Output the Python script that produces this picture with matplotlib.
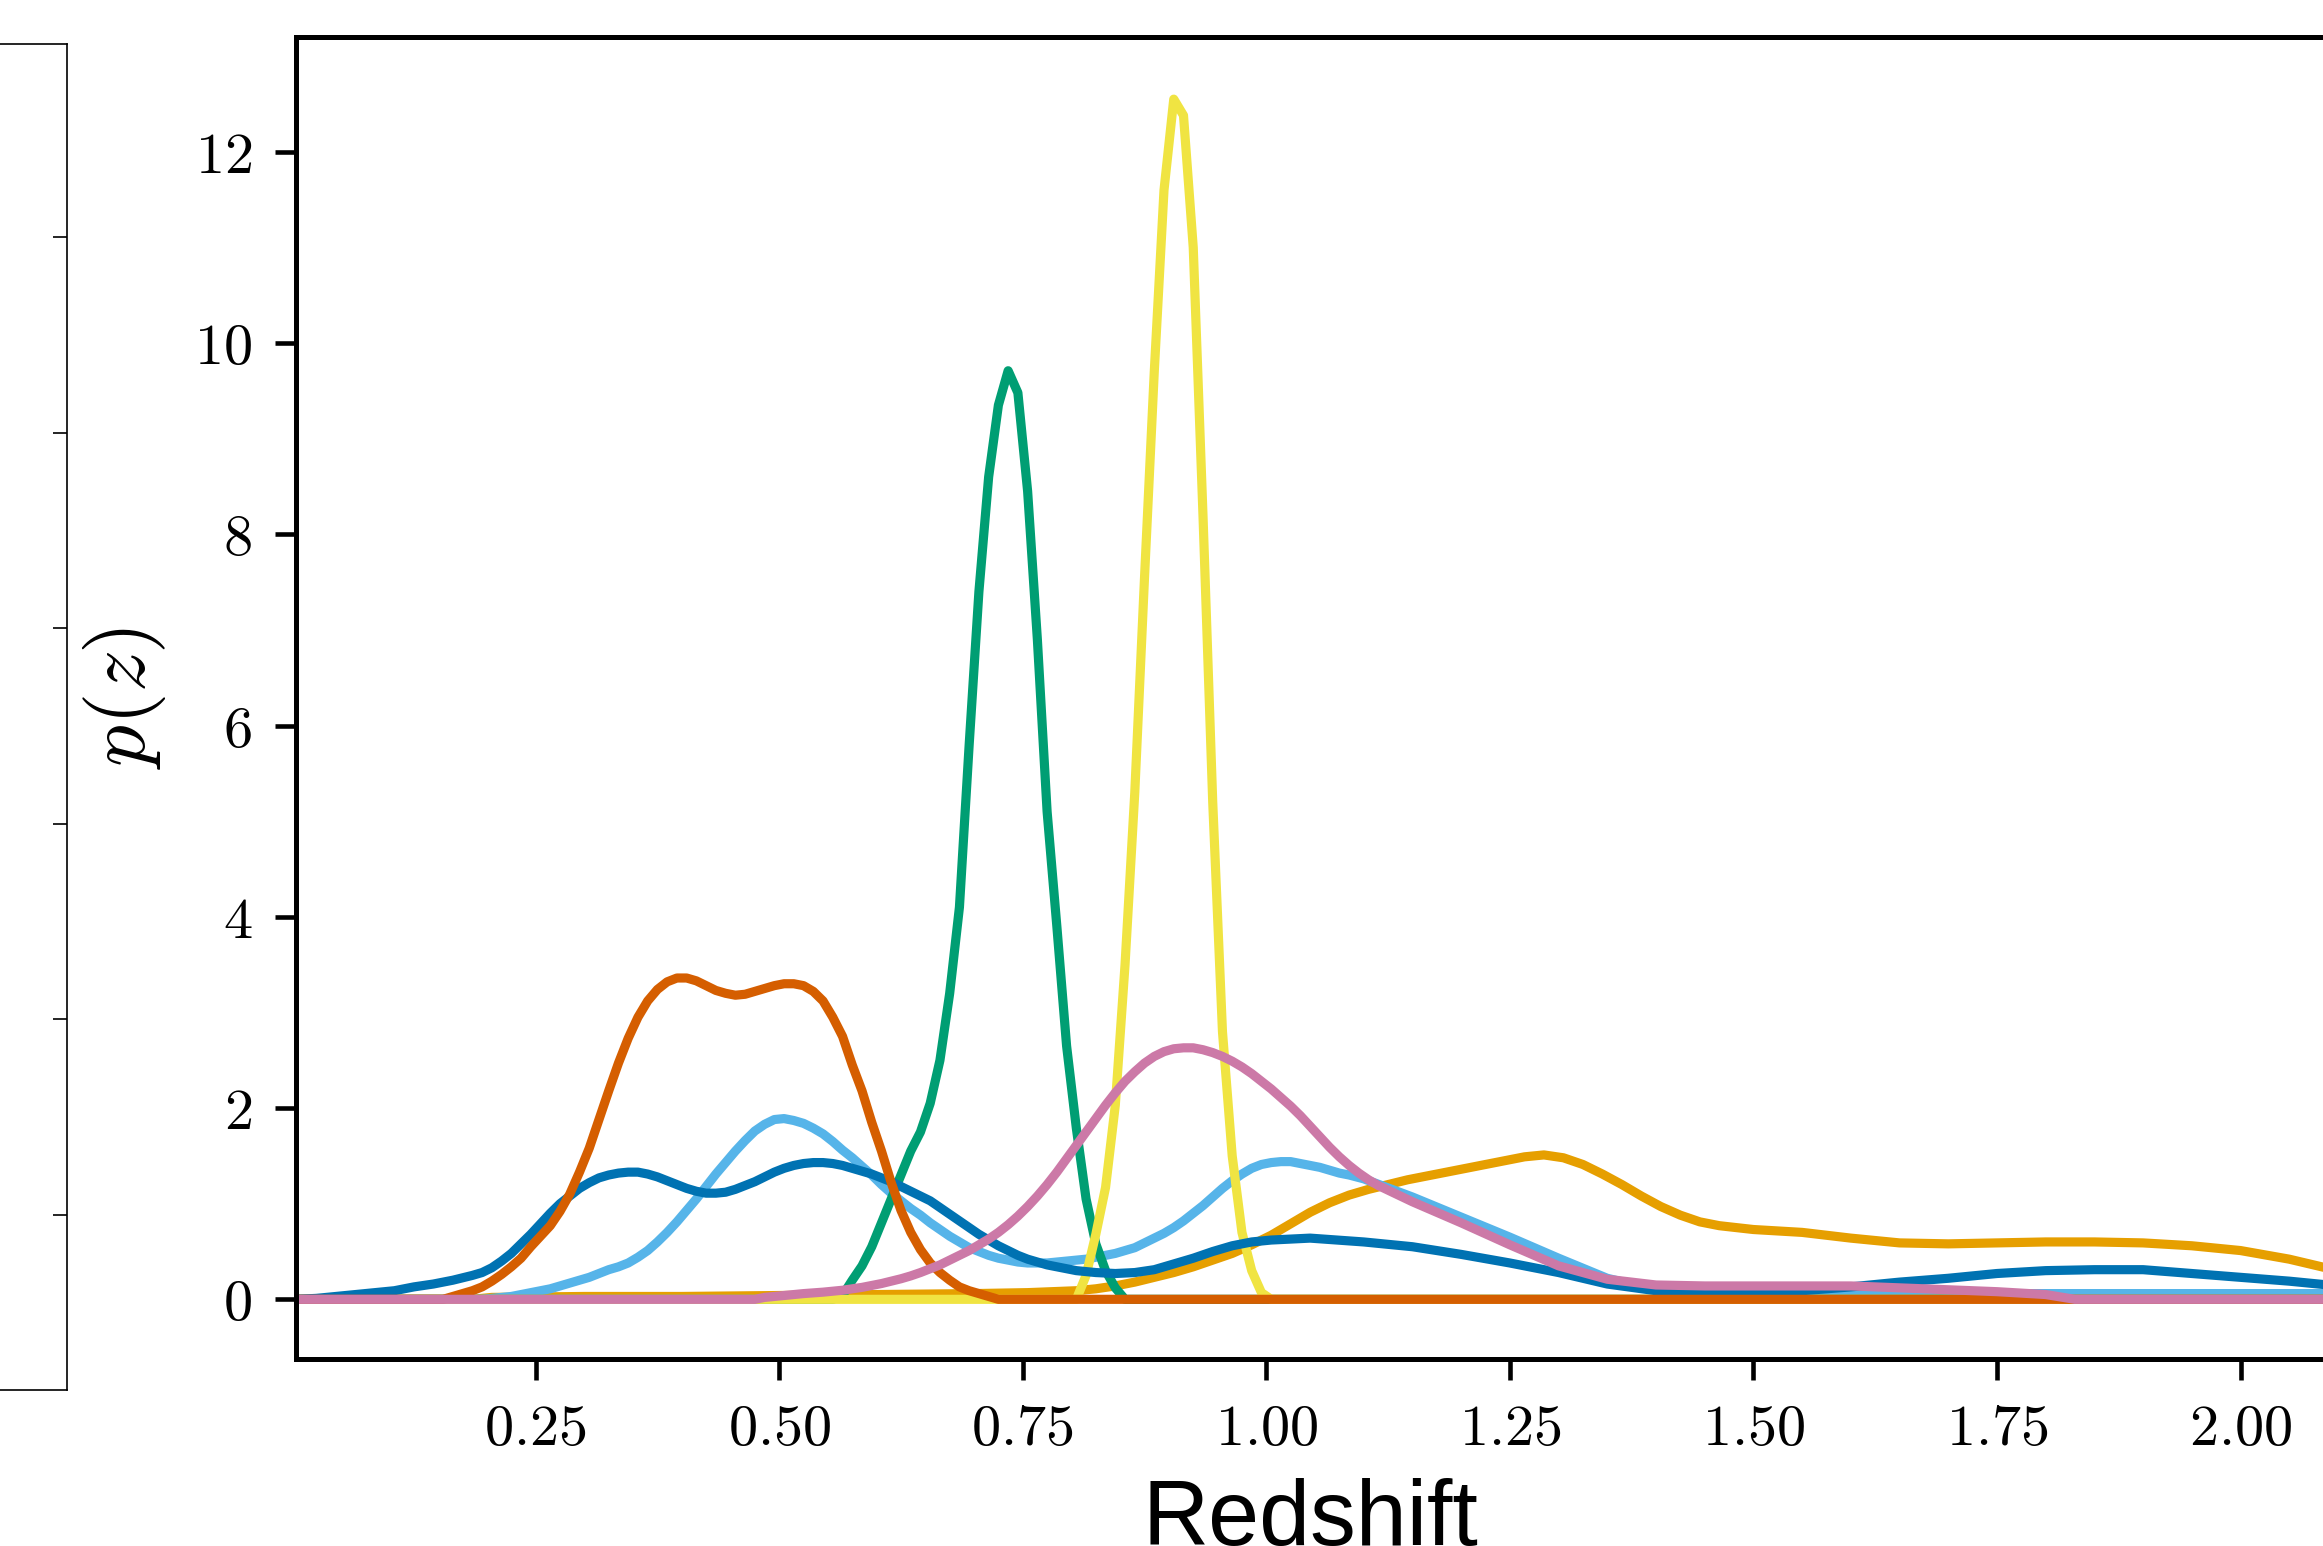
import matplotlib
matplotlib.use("Agg")
import matplotlib.pyplot as plt

plt.rcParams['mathtext.fontset'] = 'cm'
plt.rcParams['font.family'] = ['Liberation Sans', 'DejaVu Sans']

# ---------------- data ----------------
xticks = [0.25, 0.50, 0.75, 1.00, 1.25, 1.50, 1.75, 2.00]
yticks = [0, 2, 4, 6, 8, 10, 12]
xlabel = "Redshift"
ylabel = r"$p(z)$"

colors = {
    "orange": "#E69F00", "skyblue": "#56B4E9", "green": "#009E73",
    "yellow": "#F0E442", "blue": "#0072B2", "vermillion": "#D55E00",
    "pink": "#CC79A7",
}

orange_z = [0.005, 0.185, 0.205, 0.3, 0.4, 0.5, 0.6, 0.7, 0.755, 0.805, 0.825, 0.845, 0.865,
            0.885, 0.905, 0.925, 0.945, 0.965, 0.985, 1.005, 1.025, 1.045, 1.065, 1.085,
            1.105, 1.125, 1.145, 1.165, 1.185, 1.205, 1.225, 1.245, 1.265, 1.285, 1.305,
            1.325, 1.345, 1.365, 1.385, 1.405, 1.425, 1.445, 1.465, 1.5, 1.55, 1.6, 1.65,
            1.7, 1.75, 1.8, 1.85, 1.9, 1.95, 2.0, 2.05, 2.1, 2.2]
orange_p = [0, 0, 0.02, 0.03, 0.03, 0.04, 0.05, 0.06, 0.07, 0.09, 0.11, 0.14, 0.18,
            0.23, 0.28, 0.34, 0.41, 0.48, 0.57, 0.67, 0.79, 0.91, 1.01, 1.09,
            1.15, 1.20, 1.25, 1.29, 1.33, 1.37, 1.41, 1.45, 1.49, 1.51, 1.48,
            1.41, 1.31, 1.20, 1.08, 0.97, 0.88, 0.81, 0.77, 0.73, 0.70, 0.64, 0.59,
            0.58, 0.59, 0.60, 0.60, 0.59, 0.56, 0.51, 0.42, 0.30, 0.10]

skyblue_z = [0.005, 0.195, 0.205, 0.215, 0.225, 0.235, 0.245, 0.255, 0.265, 0.275, 0.285,
             0.295, 0.305, 0.315, 0.325, 0.335, 0.345, 0.355, 0.365, 0.375, 0.385, 0.395,
             0.405, 0.415, 0.425, 0.435, 0.445, 0.455, 0.465, 0.475, 0.485, 0.495, 0.505,
             0.515, 0.525, 0.535, 0.545, 0.555, 0.565, 0.575, 0.585, 0.595, 0.605, 0.615,
             0.625, 0.635, 0.645, 0.655, 0.665, 0.675, 0.685, 0.695, 0.705, 0.715, 0.725,
             0.735, 0.745, 0.755, 0.765, 0.775, 0.785, 0.795, 0.805, 0.815, 0.825, 0.835,
             0.845, 0.855, 0.865, 0.875, 0.885, 0.895, 0.905, 0.915, 0.925, 0.935, 0.945,
             0.955, 0.965, 0.975, 0.985, 0.995, 1.005, 1.015, 1.025, 1.035, 1.045, 1.055,
             1.065, 1.075, 1.085, 1.1, 1.15, 1.2, 1.25, 1.3, 1.35, 1.4, 1.45, 1.5, 1.6,
             1.7, 1.8, 1.9, 2.0, 2.1, 2.2]
skyblue_p = [0, 0, 0.01, 0.02, 0.03, 0.05, 0.07, 0.09, 0.11, 0.14, 0.17,
             0.20, 0.23, 0.27, 0.31, 0.34, 0.38, 0.44, 0.51, 0.60, 0.70, 0.81,
             0.93, 1.05, 1.18, 1.31, 1.43, 1.55, 1.66, 1.76, 1.83, 1.88, 1.89,
             1.87, 1.84, 1.79, 1.73, 1.65, 1.56, 1.48, 1.39, 1.30, 1.20, 1.11,
             1.03, 0.95, 0.88, 0.80, 0.73, 0.66, 0.60, 0.54, 0.50, 0.46, 0.43,
             0.41, 0.39, 0.38, 0.38, 0.38, 0.39, 0.40, 0.41, 0.42, 0.44, 0.46,
             0.48, 0.51, 0.54, 0.59, 0.64, 0.69, 0.75, 0.82, 0.90, 0.98, 1.07,
             1.16, 1.24, 1.31, 1.37, 1.41, 1.43, 1.44, 1.44, 1.42, 1.40, 1.38,
             1.35, 1.32, 1.30, 1.26, 1.07, 0.86, 0.65, 0.43, 0.22, 0.10, 0.07, 0.06, 0.06,
             0.06, 0.06, 0.06, 0.06, 0.06, 0.06]

green_z = [0.005, 0.555, 0.565, 0.575, 0.585, 0.595, 0.605, 0.615, 0.625, 0.635, 0.645,
           0.655, 0.665, 0.675, 0.685, 0.695, 0.705, 0.715, 0.725, 0.735, 0.745, 0.755,
           0.765, 0.775, 0.785, 0.795, 0.805, 0.815, 0.825, 0.835, 0.845, 0.855, 2.2]
green_p = [0, 0, 0.04, 0.20, 0.35, 0.55, 0.80, 1.05, 1.30, 1.55, 1.75,
           2.05, 2.50, 3.20, 4.10, 5.80, 7.40, 8.60, 9.35, 9.71, 9.48, 8.45,
           6.90, 5.10, 3.90, 2.65, 1.79, 1.05, 0.58, 0.30, 0.12, 0, 0]

yellow_z = [0.005, 0.805, 0.815, 0.825, 0.835, 0.845, 0.855, 0.865, 0.875, 0.885, 0.895,
            0.905, 0.915, 0.925, 0.935, 0.945, 0.955, 0.965, 0.975, 0.985, 0.995, 1.005, 2.2]
yellow_p = [0, 0, 0.25, 0.68, 1.17, 2.03, 3.50, 5.30, 7.55, 9.70, 11.60,
            12.55, 12.38, 11.00, 8.20, 5.20, 2.80, 1.50, 0.70, 0.30, 0.07, 0, 0]

blue_z = [0.005, 0.025, 0.045, 0.065, 0.085, 0.105, 0.125, 0.145, 0.165, 0.185, 0.195,
          0.205, 0.215, 0.225, 0.235, 0.245, 0.255, 0.265, 0.275, 0.285, 0.295, 0.305,
          0.315, 0.325, 0.335, 0.345, 0.355, 0.365, 0.375, 0.385, 0.395, 0.405, 0.415,
          0.425, 0.435, 0.445, 0.455, 0.465, 0.475, 0.485, 0.495, 0.505, 0.515, 0.525,
          0.535, 0.545, 0.555, 0.565, 0.575, 0.585, 0.595, 0.605, 0.615, 0.625, 0.635,
          0.645, 0.655, 0.665, 0.675, 0.685, 0.695, 0.705, 0.715, 0.725, 0.735, 0.745,
          0.755, 0.765, 0.775, 0.785, 0.795, 0.805, 0.825, 0.845, 0.865, 0.885, 0.905,
          0.925, 0.945, 0.965, 0.985, 1.005, 1.045, 1.1, 1.15, 1.2, 1.25, 1.3, 1.35,
          1.4, 1.45, 1.5, 1.55, 1.6, 1.65, 1.7, 1.75, 1.8, 1.85, 1.9, 1.95, 2.0, 2.05,
          2.1, 2.2]
blue_p = [0, 0.01, 0.03, 0.05, 0.07, 0.09, 0.13, 0.16, 0.20, 0.25, 0.28,
          0.33, 0.40, 0.48, 0.58, 0.68, 0.79, 0.90, 1.00, 1.08, 1.16, 1.22,
          1.27, 1.30, 1.32, 1.33, 1.33, 1.31, 1.28, 1.24, 1.20, 1.16, 1.13,
          1.11, 1.11, 1.12, 1.15, 1.19, 1.23, 1.28, 1.33, 1.37, 1.40, 1.42,
          1.43, 1.43, 1.42, 1.40, 1.37, 1.34, 1.31, 1.27, 1.23, 1.18, 1.13,
          1.08, 1.03, 0.96, 0.89, 0.82, 0.75, 0.68, 0.62, 0.56, 0.51, 0.46,
          0.42, 0.39, 0.36, 0.34, 0.32, 0.30, 0.28, 0.27, 0.28, 0.31, 0.37,
          0.43, 0.50, 0.56, 0.60, 0.62, 0.64, 0.60, 0.55, 0.47, 0.38, 0.28, 0.16,
          0.09, 0.07, 0.07, 0.09, 0.13, 0.18, 0.22, 0.27, 0.30, 0.31, 0.31, 0.27, 0.23, 0.19,
          0.14, 0.08]

vermillion_z = [0.005, 0.155, 0.165, 0.175, 0.185, 0.195, 0.205, 0.215, 0.225, 0.235, 0.245,
                0.255, 0.265, 0.275, 0.285, 0.295, 0.305, 0.315, 0.325, 0.335, 0.345, 0.355,
                0.365, 0.375, 0.385, 0.395, 0.405, 0.415, 0.425, 0.435, 0.445, 0.455, 0.465,
                0.475, 0.485, 0.495, 0.505, 0.515, 0.525, 0.535, 0.545, 0.555, 0.565, 0.575,
                0.585, 0.595, 0.605, 0.615, 0.625, 0.635, 0.645, 0.655, 0.665, 0.675, 0.685,
                0.695, 0.705, 0.715, 0.725, 2.2]
vermillion_p = [0, 0, 0.03, 0.06, 0.09, 0.13, 0.19, 0.26, 0.34, 0.43, 0.55,
                0.66, 0.77, 0.92, 1.10, 1.33, 1.58, 1.88, 2.18, 2.47, 2.73, 2.95,
                3.12, 3.24, 3.32, 3.36, 3.36, 3.33, 3.28, 3.23, 3.20, 3.18, 3.19,
                3.22, 3.25, 3.28, 3.30, 3.30, 3.28, 3.22, 3.12, 2.95, 2.75, 2.45,
                2.18, 1.85, 1.55, 1.22, 0.93, 0.70, 0.52, 0.38, 0.28, 0.20, 0.13,
                0.09, 0.06, 0.03, 0, 0]

pink_z = [0.005, 0.475, 0.485, 0.495, 0.505, 0.525, 0.545, 0.565, 0.575, 0.585, 0.595,
          0.605, 0.615, 0.625, 0.635, 0.645, 0.655, 0.665, 0.675, 0.685, 0.695, 0.705,
          0.715, 0.725, 0.735, 0.745, 0.755, 0.765, 0.775, 0.785, 0.795, 0.805, 0.815,
          0.825, 0.835, 0.845, 0.855, 0.865, 0.875, 0.885, 0.895, 0.905, 0.915, 0.925,
          0.935, 0.945, 0.955, 0.965, 0.975, 0.985, 0.995, 1.005, 1.015, 1.025, 1.035,
          1.045, 1.055, 1.065, 1.075, 1.085, 1.095, 1.105, 1.115, 1.15, 1.2, 1.25, 1.3,
          1.35, 1.4, 1.45, 1.5, 1.55, 1.6, 1.65, 1.7, 1.75, 1.8, 1.83, 2.2]
pink_p = [0, 0, 0.02, 0.03, 0.04, 0.06, 0.075, 0.095, 0.11, 0.125, 0.145,
          0.165, 0.19, 0.215, 0.245, 0.28, 0.32, 0.36, 0.41, 0.46, 0.51, 0.57,
          0.63, 0.70, 0.78, 0.87, 0.97, 1.08, 1.20, 1.33, 1.47, 1.61, 1.75,
          1.89, 2.03, 2.16, 2.28, 2.38, 2.47, 2.54, 2.59, 2.62, 2.63, 2.63,
          2.61, 2.58, 2.54, 2.49, 2.43, 2.36, 2.28, 2.20, 2.11, 2.02, 1.92,
          1.81, 1.70, 1.59, 1.49, 1.40, 1.32, 1.25, 1.19, 1.02, 0.80, 0.57, 0.35,
          0.21, 0.15, 0.14, 0.14, 0.14, 0.14, 0.12, 0.10, 0.08, 0.05, 0, 0]

series = [
    (orange_z, orange_p, colors["orange"]),
    (skyblue_z, skyblue_p, colors["skyblue"]),
    (green_z, green_p, colors["green"]),
    (yellow_z, yellow_p, colors["yellow"]),
    (blue_z, blue_p, colors["blue"]),
    (vermillion_z, vermillion_p, colors["vermillion"]),
    (pink_z, pink_p, colors["pink"]),
]

left_panel_ticks = [1, 2, 3, 4, 5, 6]

# ---------------- figure ----------------
W, H = 2323, 1546
DPI = 300
fig = plt.figure(figsize=(W / DPI, H / DPI), dpi=DPI)

# main axes (extends past the right edge of the figure)
ax_left_px, ax_top_px, ax_bot_px = 296, 37, 1359
xmin, xmax = 0.004, 2.2
px_per_unit = 974.2
ax_w_px = (xmax - xmin) * px_per_unit
ax = fig.add_axes([ax_left_px / W, 1 - ax_bot_px / H, ax_w_px / W, (ax_bot_px - ax_top_px) / H])

for z, p, c in series:
    ax.plot(z, p, color=c, lw=2.2)

ax.set_xlim(xmin, xmax)
ax.set_ylim(-0.624, 13.2)
ax.set_xticks(xticks)
ax.set_xticklabels([f"${t:.2f}$" for t in xticks])
ax.set_yticks(yticks)
ax.set_yticklabels([f"${t}$" for t in yticks])
ax.tick_params(axis='both', which='major', direction='out', length=5, width=1.1,
               labelsize=14, pad=5.5)
for s in ax.spines.values():
    s.set_linewidth(1.2)

ax.set_xlabel(xlabel, fontsize=22, family=['Liberation Sans', 'DejaVu Sans'])
ax.xaxis.set_label_coords((1310 - ax_left_px) / ax_w_px, (ax_bot_px - 1478) / (ax_bot_px - ax_top_px))
ax.set_ylabel(ylabel, fontsize=20)
ax.yaxis.set_label_coords((168 - ax_left_px) / ax_w_px, 0.5)

# partially visible left panel
lp_right, lp_top, lp_bot = 67, 44, 1390
ax2 = fig.add_axes([-0.2, 1 - lp_bot / H, 0.2 + lp_right / W, (lp_bot - lp_top) / H])
ax2.set_xticks([])
ax2.set_ylim(0.105, 6.987)
ax2.yaxis.tick_right()
ax2.set_yticks(left_panel_ticks)
ax2.tick_params(axis='y', direction='in', length=3.4, width=0.4, labelright=False)
for s in ax2.spines.values():
    s.set_linewidth(0.4)

fig.savefig("out.png", dpi=DPI)
